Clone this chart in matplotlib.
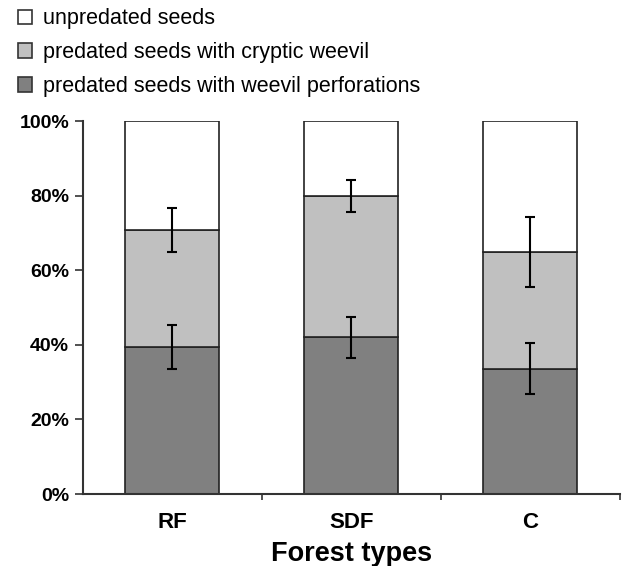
import matplotlib.pyplot as plt
from matplotlib.patches import Patch

plt.rcParams['font.family'] = ['Liberation Sans', 'DejaVu Sans']

# ---------------- Data ----------------
forest_types = ['RF', 'SDF', 'C']
perforated = [39.4, 42.0, 33.6]      # predated seeds with weevil perforations
perforated_err = [6.0, 5.5, 6.8]
cryptic_top = [70.8, 79.9, 64.8]     # cumulative top of cryptic weevil segment
cryptic_err = [5.8, 4.2, 9.4]
labels = ['unpredated seeds',
          'predated seeds with cryptic weevil',
          'predated seeds with weevil perforations']
colors = ['white', '#c0c0c0', '#808080']

cryptic = [t - b for t, b in zip(cryptic_top, perforated)]
unpredated = [100 - t for t in cryptic_top]

# ---------------- Plot ----------------
fig = plt.figure(figsize=(6.23, 5.66), dpi=100)
ax = fig.add_axes([0.1332, 0.1272, 0.8618, 0.659])

x = range(len(forest_types))
w = 0.525
edge = '#222222'
ax.bar(x, perforated, w, color=colors[2], edgecolor=edge, linewidth=1.2)
ax.bar(x, cryptic, w, bottom=perforated, color=colors[1], edgecolor=edge, linewidth=1.2)
ax.bar(x, unpredated, w, bottom=cryptic_top, color=colors[0], edgecolor=edge, linewidth=1.2)

ax.errorbar(x, perforated, yerr=perforated_err, fmt='none', ecolor='black',
            elinewidth=1.5, capsize=3.5, capthick=1.5)
ax.errorbar(x, cryptic_top, yerr=cryptic_err, fmt='none', ecolor='black',
            elinewidth=1.5, capsize=3.5, capthick=1.5)

ax.set_xlim(-0.5, 2.5)
ax.set_ylim(0, 100)
ax.set_yticks([0, 20, 40, 60, 80, 100])
ax.set_yticklabels([f'{v}%' for v in range(0, 101, 20)], fontsize=14, fontweight='bold')
ax.set_xticks(list(x))
ax.set_xticklabels(forest_types, fontsize=16, fontweight='bold')
ax.set_xticks([0.5, 1.5, 2.5], minor=True)
ax.tick_params(axis='x', which='major', length=0, pad=13)
ax.tick_params(axis='x', which='minor', length=4, width=1.2, color='#333333')
ax.tick_params(axis='y', length=6, width=1.2, color='#333333', pad=4)
ax.set_xlabel('Forest types', fontsize=19.5, fontweight='bold', labelpad=6)

for s in ['top', 'right']:
    ax.spines[s].set_visible(False)
for s in ['left', 'bottom']:
    ax.spines[s].set_linewidth(1.5)
    ax.spines[s].set_color('#333333')

handles = [Patch(facecolor=c, edgecolor='#333333', linewidth=1.2) for c in colors]
fig.legend(handles, labels, loc='upper left', bbox_to_anchor=(0.005, 1.012),
           frameon=False, fontsize=15.5, handlelength=0.65, handleheight=0.65,
           handletextpad=0.5, labelspacing=0.6, borderaxespad=0.3)

fig.savefig('out.png', dpi=100)
